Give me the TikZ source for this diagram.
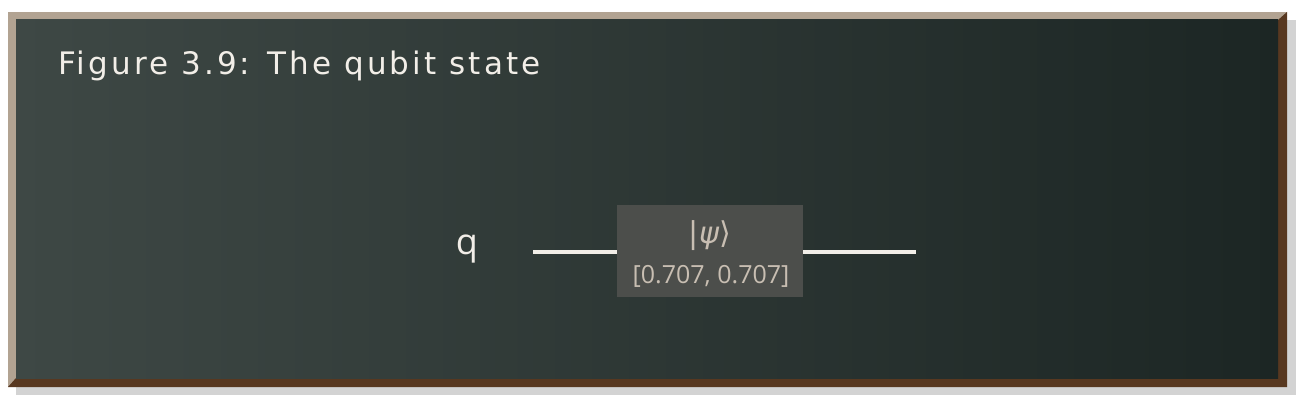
\documentclass[tikz,border=0pt]{standalone}
\usepackage{fontspec}
\setsansfont{Open Sans}
\newfontfamily\ketfont{DejaVu Sans}
\usepackage{tikz}
\usetikzlibrary{positioning,calc,backgrounds}
\definecolor{frametan}{RGB}{178,163,146}
\definecolor{framebrown}{RGB}{88,56,32}
\definecolor{boardlight}{RGB}{62,72,69}
\definecolor{boarddark}{RGB}{28,38,36}
\definecolor{chalk}{RGB}{242,238,232}
\definecolor{statefill}{RGB}{76,78,75}
\definecolor{statetext}{RGB}{200,190,178}
\definecolor{shadowgray}{RGB}{211,211,211}

\begin{document}
\begin{tikzpicture}[
        x=1pt, y=-1pt,
        font=\sffamily,
        heading/.style={anchor=base west, text=chalk, font=\ketfont\fontsize{31}{33}\selectfont\addfontfeatures{LetterSpace=10}, inner sep=0pt},
        qlab/.style={text=chalk, font=\sffamily\fontsize{36}{38}\selectfont, inner sep=0pt},
        gatebox/.style={rectangle, fill=statefill, minimum width=186pt, minimum height=92pt, inner sep=0pt},
        gatetext/.style={text=statetext, inner sep=0pt},
        wire/.style={draw=chalk, line width=3.5pt}
    ]
        \useasboundingbox (0,0) rectangle (1306,406);
        \fill[white] (0,0) rectangle (1306,406);

        % board and frame
        \fill[shadowgray] (16,20) rectangle (1296,395);
        \fill[frametan] (8,12) rectangle (1287,387);
        \fill[framebrown] (1287,12) -- (1287,387) -- (8,387) -- (16,378) -- (1278,378) -- (1278,20) -- cycle;
        \shade[left color=boardlight, right color=boarddark] (16,20) rectangle (1278,378);

        \node[heading] (title) at (58,75) {Figure 3.9: The qubit state};

        % circuit
        \node[qlab] (q) at (467,249) {q};
        \node[gatebox] (state) at (710,251) {};
        \node[gatetext, font=\ketfont\fontsize{30}{32}\selectfont] (ket) at (710,236) {|\textit{ψ}⟩};
        \node[gatetext, font=\sffamily\fontsize{25}{27}\selectfont] (amps) at (711,276) {[0.707, 0.707]};
        \coordinate (qin) at (533,252);
        \coordinate (qout) at (916,252);

        \draw[wire] (qin) -- (qin -| state.west);
        \draw[wire] (qout -| state.east) -- (qout);
    \end{tikzpicture}
\end{document}
